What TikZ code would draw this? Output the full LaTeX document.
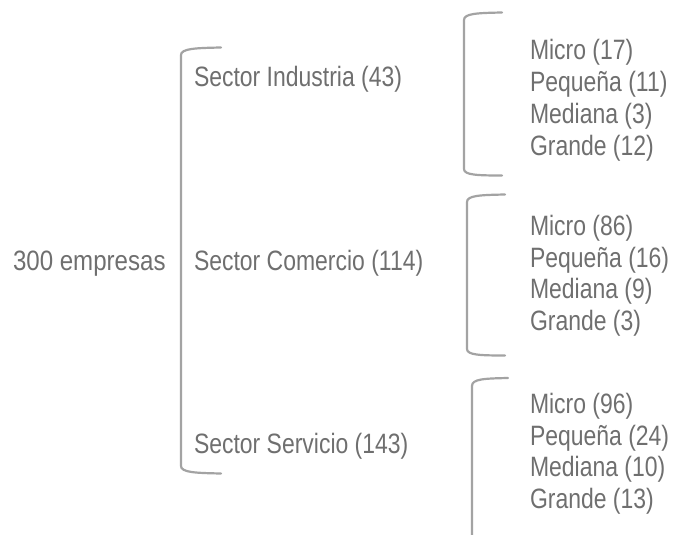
\documentclass[tikz,border=0pt]{standalone}
\usepackage{fontspec}
\setmainfont[FakeStretch=0.82]{Liberation Sans}
\definecolor{txtgray}{HTML}{6F6F6F}
\definecolor{linegray}{HTML}{A3A3A3}
\begin{document}
\begin{tikzpicture}[x=1pt,y=-1pt,
  lbl/.style={anchor=base west,inner sep=0pt,outer sep=0pt,text=txtgray,font=\fontsize{28}{32}\selectfont},
  brk/.style={draw=linegray,line width=2.2pt,line cap=round}]
\useasboundingbox (0,0) rectangle (678,535);
% texts
\node[lbl,font=\fontsize{28}{32}\selectfont\addfontfeature{FakeStretch=0.86}] (root) at (13,270) {300 empresas};
\node[lbl] (ind) at (194,87) {Sector Industria (43)};
\node[lbl] (com) at (194,270) {Sector Comercio (114)};
\node[lbl] (ser) at (194,453) {Sector Servicio (143)};
% list 1
\node[lbl] (i1) at (530,60) {Micro (17)};
\node[lbl] (i2) at (530,92) {Pequeña (11)};
\node[lbl] (i3) at (530,123.5) {Mediana (3)};
\node[lbl] (i4) at (530,155) {Grande (12)};
% list 2
\node[lbl] (c1) at (530,235) {Micro (86)};
\node[lbl] (c2) at (530,267) {Pequeña (16)};
\node[lbl] (c3) at (530,298.5) {Mediana (9)};
\node[lbl] (c4) at (530,330) {Grande (3)};
% list 3
\node[lbl] (s1) at (530,413) {Micro (96)};
\node[lbl] (s2) at (530,445) {Pequeña (24)};
\node[lbl] (s3) at (530,476.5) {Mediana (10)};
\node[lbl] (s4) at (530,508) {Grande (13)};
% brackets
\draw[brk] (221,47.5) .. controls (196,48) and (181,48.5) .. (181,55) -- (181,466) .. controls (181,472.5) and (196,473) .. (221,473.5);
\draw[brk] (502,12.5) .. controls (477,13) and (464,13.5) .. (464,20) -- (464,169) .. controls (464,175) and (477,175.5) .. (502,175.5);
\draw[brk] (505,194.5) .. controls (480,195) and (467,195.5) .. (467,202) -- (467,349) .. controls (467,355) and (480,355.5) .. (505,355.5);
\draw[brk] (508,378) .. controls (484,378.5) and (472,379) .. (472,386) -- (472,540);
\end{tikzpicture}
\end{document}
